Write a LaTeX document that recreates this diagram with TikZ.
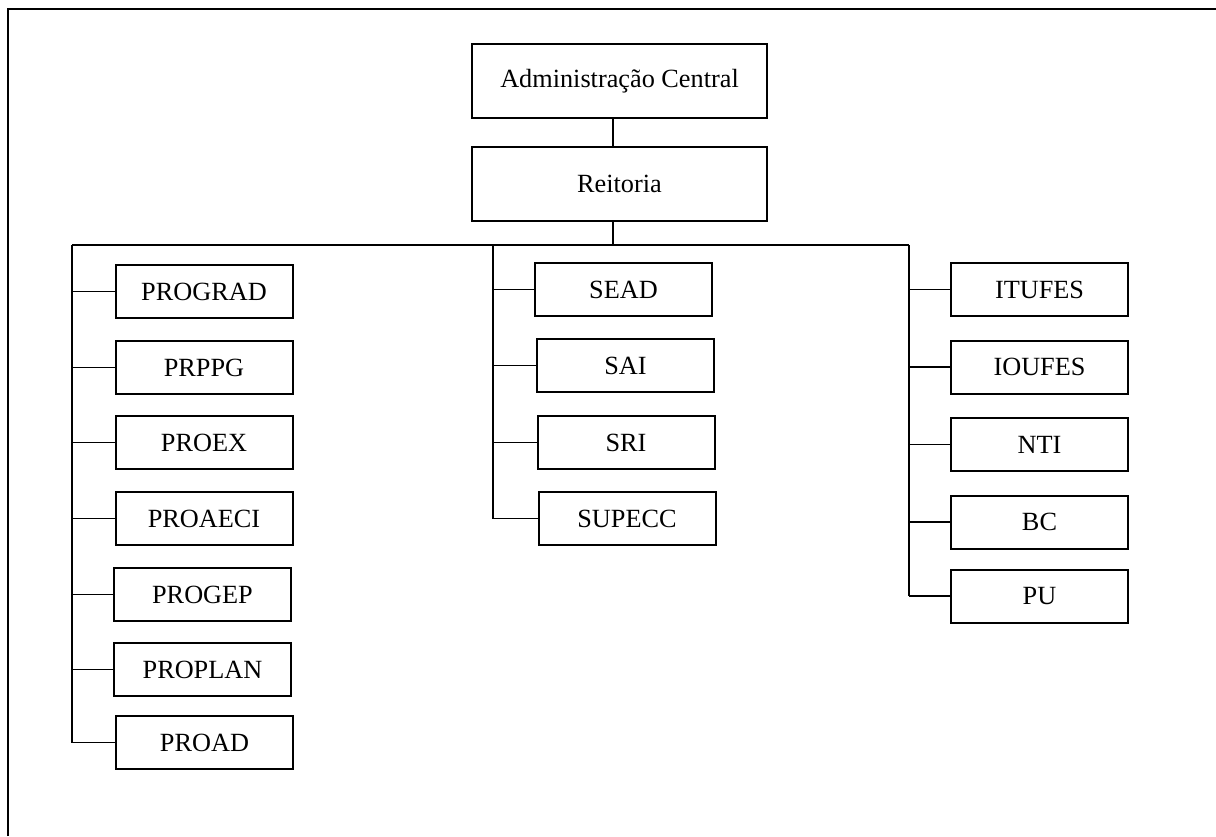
\documentclass[tikz,border=0pt]{standalone}
\usepackage{fontspec}
\setmainfont{Liberation Serif}
\begin{document}
\begin{tikzpicture}[x=0.75pt,y=-0.75pt,
  orgbox/.style={draw, line width=1.5pt, inner sep=0pt, font=\fontsize{19.7}{22}\selectfont},
  unitbox/.style={orgbox, minimum width=132.75pt, minimum height=39.75pt},
  link/.style={line width=1.2pt}]
\useasboundingbox (0,0) rectangle (1216,836);
% frame (only top and left edges visible)
\draw[line width=1.5pt] (8,836) -- (8,9) -- (1216,9);
% top
\node[orgbox, minimum width=221.25pt, minimum height=55.5pt] (ac) at (619.5,81) {Administração Central};
\node[orgbox, minimum width=221.25pt, minimum height=55.5pt] (re) at (619.5,184) {Reitoria};
% left column
\node[unitbox] (prograd) at (204,291.5) {PROGRAD};
\node[unitbox] (prppg) at (204,367.5) {PRPPG};
\node[unitbox] (proex) at (204,442.5) {PROEX};
\node[unitbox] (proaeci) at (204,518.5) {PROAECI};
\node[unitbox] (progep) at (202.5,594.5) {PROGEP};
\node[unitbox] (proplan) at (202.5,669.5) {PROPLAN};
\node[unitbox] (proad) at (204.5,742.5) {PROAD};
% middle column
\node[unitbox] (sead) at (623.5,289.5) {SEAD};
\node[unitbox] (sai) at (625.5,365.5) {SAI};
\node[unitbox] (sri) at (626,442.5) {SRI};
\node[unitbox] (supecc) at (627,518.5) {SUPECC};
% right column
\node[unitbox] (itufes) at (1039.5,289.5) {ITUFES};
\node[unitbox] (ioufes) at (1039.5,367) {IOUFES};
\node[unitbox] (nti) at (1039.5,444.5) {NTI};
\node[unitbox] (bc) at (1039.5,522) {BC};
\node[unitbox] (pu) at (1039.5,596) {PU};
% bus coordinates
\coordinate (bus) at (613,245);
\coordinate (busL) at (72,245);
\coordinate (busM) at (493,245);
\coordinate (busR) at (909,245);
% connectors
\draw[link] (ac.south -| bus) -- (re.north -| bus);
\draw[link] (re.south -| bus) -- (bus);
\draw[link] (busL) -- (busR);
\draw[link] (busL) -- (busL |- proad.west);
\draw[link] (busM) -- (busM |- supecc.west);
\draw[link] (busR) -- (busR |- pu.west);
\foreach \n in {prograd,prppg,proex,proaeci,progep,proplan,proad}
  \draw[link] (busL |- \n.west) -- (\n.west);
\foreach \n in {sead,sai,sri,supecc}
  \draw[link] (busM |- \n.west) -- (\n.west);
\foreach \n in {itufes,ioufes,nti,bc,pu}
  \draw[link] (busR |- \n.west) -- (\n.west);
\end{tikzpicture}
\end{document}
